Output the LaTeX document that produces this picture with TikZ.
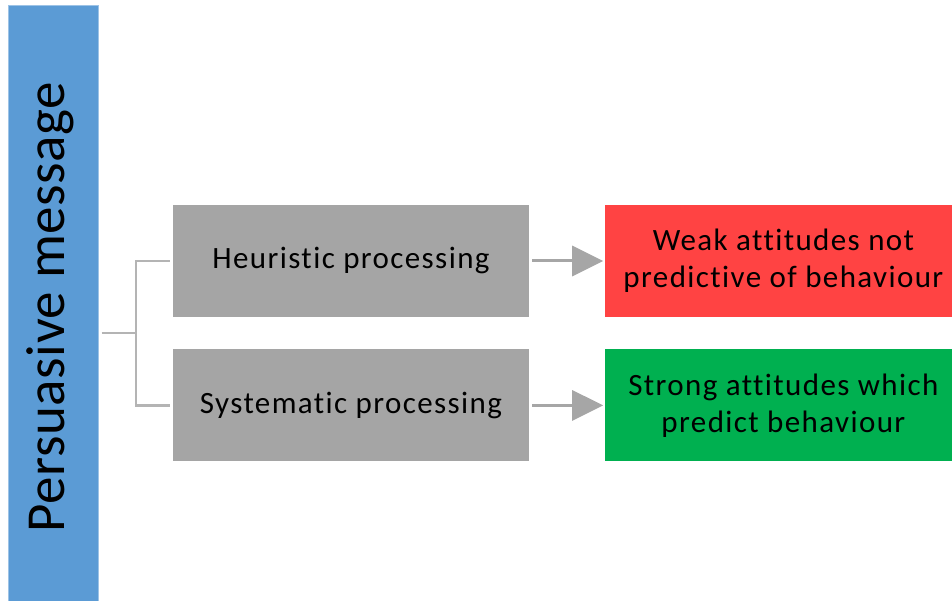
\documentclass[tikz,border=0pt]{standalone}
\usepackage{fontspec}
\setmainfont[Ligatures=NoCommon,LetterSpace=4.5]{Carlito}
\newfontfamily\msgfont[Ligatures=NoCommon,LetterSpace=1]{Carlito}
\usetikzlibrary{arrows.meta,positioning,calc}

\definecolor{msgblue}{HTML}{5B9BD5}
\definecolor{procgray}{HTML}{A5A5A5}
\definecolor{weakred}{HTML}{FF4343}
\definecolor{stronggreen}{HTML}{00B050}
\definecolor{linkgray}{HTML}{B4B4B4}
\definecolor{arrowgray}{HTML}{A6A6A6}

\begin{document}
\begin{tikzpicture}[
  x=1pt,y=-1pt,
  node distance=32pt and 76pt,
  box/.style={minimum width=356pt,minimum height=112pt,align=center,inner sep=0pt,
    font=\fontsize{31}{37}\selectfont},
  link/.style={draw=linkgray,line width=2.5pt},
  arrow/.style={draw=arrowgray,line width=3pt,-{Triangle[length=31pt,width=30pt]},
    shorten <=3pt,shorten >=2pt}
]
\useasboundingbox (0,0) rectangle (952,601);
\node[fill=msgblue,draw=msgblue!60!white,line width=1pt,minimum width=90pt,minimum height=600pt,
  inner sep=0pt] (msg) at (53,306) {};
\node[rotate=90,font=\msgfont\fontsize{55}{60}\selectfont] (msgtext) at (50,307) {Persuasive message};
\node[box,fill=procgray] (heur) at (351,261) {Heuristic processing};
\node[box,fill=procgray,below=of heur] (sys) {Systematic processing};
\node[box,fill=weakred,right=of heur] (weak) {Weak attitudes not\\predictive of behaviour};
\node[box,fill=stronggreen,right=of sys] (strong) {Strong attitudes which\\predict behaviour};
% fork from the message to both routes
\coordinate (fork) at ($(heur.west)!0.5!(sys.west)+(-37,0)$);
\draw[link] ([xshift=3pt]fork -| msg.east) -- (fork);
\draw[link] ([xshift=-3pt]heur.west) -| (fork) |- ([xshift=-3pt]sys.west);
\draw[arrow] (heur) -- (weak);
\draw[arrow] (sys) -- (strong);
\end{tikzpicture}
\end{document}
